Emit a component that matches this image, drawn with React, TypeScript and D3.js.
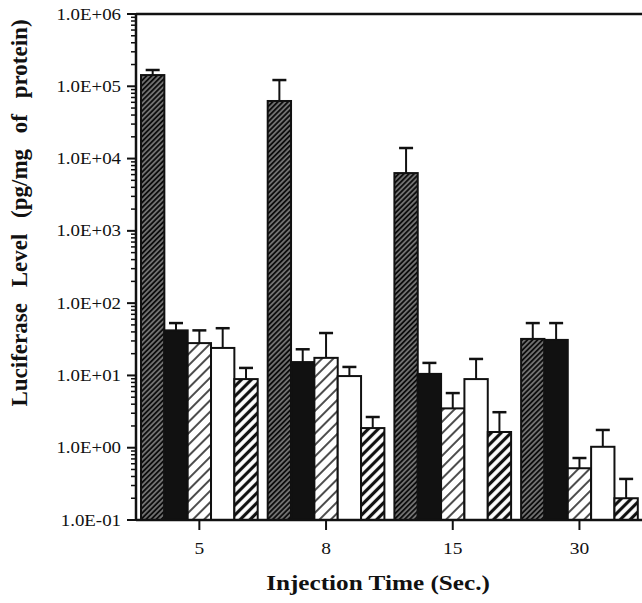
import * as d3 from 'd3'

const groups = ['5', '8', '15', '30']
// five treatments per injection time, bar = mean, err = upper end of the error bar
const series1 = [143000, 62600, 6300, 32]
const series1Err = [168000, 122000, 14000, 53]
const series2 = [42, 15.3, 10.5, 31]
const series2Err = [53, 23, 14.9, 53]
const series3 = [28, 17.5, 3.5, 0.52]
const series3Err = [42, 38.6, 5.7, 0.72]
const series4 = [24, 9.8, 8.9, 1.03]
const series4Err = [45, 13.1, 16.9, 1.76]
const series5 = [8.9, 1.87, 1.65, 0.2]
const series5Err = [12.7, 2.66, 3.1, 0.37]

const yMajor = [1e-1, 1e0, 1e1, 1e2, 1e3, 1e4, 1e5, 1e6]

const allSeries = [series1, series2, series3, series4, series5]
const allErr = [series1Err, series2Err, series3Err, series4Err, series5Err]
const fills = ['url(#hatchDense)', '#111', 'url(#hatchThin)', '#fff', 'url(#hatchBold)']

const fmt = (v: number) => {
	const e = Math.round(Math.log10(v))
	return '1.0E' + (e < 0 ? '-' : '+') + String(Math.abs(e)).padStart(2, '0')
}

const serif = '"Liberation Serif", "Times New Roman", Times, "DejaVu Serif", serif'
// the scanned figure is a bit wider than tall, so the text gets stretched sideways
const stretch = 1.18

export default function App() {
	const top = 14
	const bottom = 520
	const left = 136

	const y = d3.scaleLog().domain([0.1, 1e6]).range([bottom, top])
	const x = d3
		.scaleBand()
		.domain(groups)
		.range([left, left + 4 * 126.7])
		.paddingInner(10 / 126.7)
		.paddingOuter(5 / 126.7)
	const xi = d3
		.scaleBand<number>()
		.domain([0, 1, 2, 3, 4])
		.range([0, x.bandwidth()])

	const minor: number[] = []
	for (let d = -1; d < 6; d++) {
		for (let k = 2; k < 10; k++) minor.push(k * Math.pow(10, d))
	}

	return (
		<svg
			width={642}
			height={603}
			style={{ position: 'absolute', left: 0, top: 0, background: '#fff', fontFamily: serif }}>
			<defs>
				<pattern id="hatchDense" width={3.6} height={3.6} patternUnits="userSpaceOnUse" patternTransform="rotate(45)">
					<rect width={3.6} height={3.6} fill="#0d0d0d" />
					<line x1={1.8} y1={0} x2={1.8} y2={3.6} stroke="#eee" strokeWidth={0.8} />
				</pattern>
				<pattern id="hatchThin" width={8} height={8} patternUnits="userSpaceOnUse" patternTransform="rotate(45)">
					<rect width={8} height={8} fill="#fff" />
					<line x1={4} y1={0} x2={4} y2={8} stroke="#111" strokeWidth={1.5} />
				</pattern>
				<pattern id="hatchBold" width={7} height={7} patternUnits="userSpaceOnUse" patternTransform="rotate(45)">
					<rect width={7} height={7} fill="#fff" />
					<line x1={3.5} y1={0} x2={3.5} y2={7} stroke="#111" strokeWidth={3.2} />
				</pattern>
			</defs>

			{/* bars */}
			{groups.map((g, gi) => (
				<g key={g} transform={`translate(${x(g)},0)`}>
					{allSeries.map((s, si) => {
						const bx = xi(si) as number
						const bw = xi.bandwidth()
						const yt = y(s[gi])
						const ye = y(allErr[si][gi])
						const cx = bx + bw / 2
						return (
							<g key={si}>
								<line x1={cx} x2={cx} y1={yt} y2={ye} stroke="#111" strokeWidth={2} />
								<line x1={cx - 7} x2={cx + 7} y1={ye} y2={ye} stroke="#111" strokeWidth={2.5} />
								<rect x={bx} y={yt} width={bw} height={bottom - yt} fill={fills[si]} stroke="#111" strokeWidth={2} />
							</g>
						)
					})}
				</g>
			))}

			{/* frame */}
			<line x1={left} x2={642} y1={top} y2={top} stroke="#111" strokeWidth={2.5} />
			<line x1={left} x2={642} y1={bottom} y2={bottom} stroke="#111" strokeWidth={2.5} />
			<line x1={left} x2={left} y1={top - 1} y2={bottom + 1} stroke="#111" strokeWidth={2.5} />

			{/* y ticks */}
			{minor.map((v) => (
				<line key={v} x1={left - 5} x2={left} y1={y(v)} y2={y(v)} stroke="#111" strokeWidth={1.5} />
			))}
			{yMajor.map((v) => (
				<g key={v}>
					<line x1={left - 9} x2={left} y1={y(v)} y2={y(v)} stroke="#111" strokeWidth={2} />
					<text
						transform={`translate(121,${y(v)}) scale(${stretch},1)`}
						dy="0.35em"
						textAnchor="end"
						fontSize={16}
						fill="#111"
						fontFamily={serif}>
						{fmt(v)}
					</text>
				</g>
			))}

			{/* x ticks */}
			{groups.map((g) => {
				const cx = (x(g) as number) + x.bandwidth() / 2
				return (
					<g key={g}>
						<line x1={cx} x2={cx} y1={bottom} y2={bottom + 10} stroke="#111" strokeWidth={2} />
						<text
							transform={`translate(${cx},548) scale(${stretch},1)`}
							dy="0.35em"
							textAnchor="middle"
							fontSize={16.5}
							fill="#111"
							fontFamily={serif}>
							{g}
						</text>
					</g>
				)
			})}

			<text
				transform={`translate(378,583) scale(1.2,1)`}
				dy="0.35em"
				textAnchor="middle"
				fontSize={21}
				fontWeight="bold"
				fill="#111"
				fontFamily={serif}>
				Injection Time (Sec.)
			</text>
			<text
				transform="translate(19,213) rotate(-90)"
				dy="0.35em"
				textAnchor="middle"
				fontSize={23}
				fontWeight="bold"
				wordSpacing={10}
				fill="#111"
				fontFamily={serif}>
				Luciferase Level (pg/mg of protein)
			</text>
		</svg>
	)
}
